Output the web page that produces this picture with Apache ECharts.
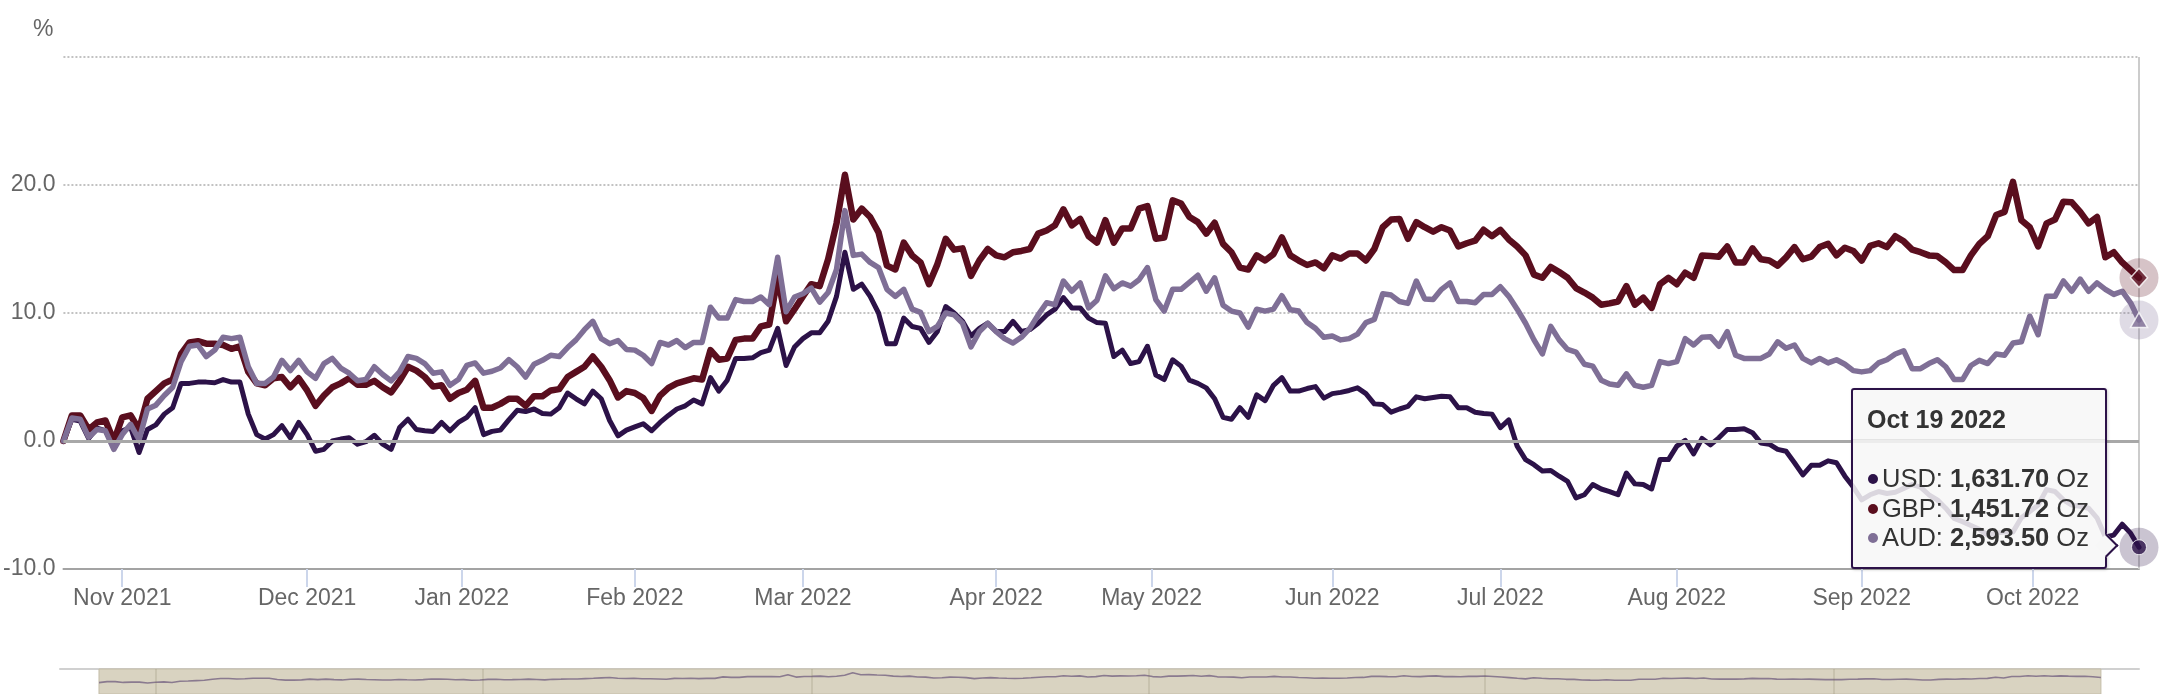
<!DOCTYPE html>
<html><head><meta charset="utf-8">
<script src="https://cdn.jsdelivr.net/npm/echarts@6/dist/echarts.min.js"></script>
<style>html,body{margin:0;padding:0;background:#fff;}#c{width:2168px;height:694px;}</style>
</head><body><div id="c"></div>
<script>
// Trading days per month (London fixing calendar)
const tradingDays = {
 '2021-10': [21,22,25,26,27,28,29],
 '2021-11': [1,2,3,4,5,8,9,10,11,12,15,16,17,18,19,22,23,24,25,26,29,30],
 '2021-12': [1,2,3,6,7,8,9,10,13,14,15,16,17,20,21,22,23,29,30],
 '2022-01': [4,5,6,7,10,11,12,13,14,17,18,19,20,21,24,25,26,27,28,31],
 '2022-02': [1,2,3,4,7,8,9,10,11,14,15,16,17,18,21,22,23,24,25,28],
 '2022-03': [1,2,3,4,7,8,9,10,11,14,15,16,17,18,21,22,23,24,25,28,29,30,31],
 '2022-04': [1,4,5,6,7,8,11,12,13,14,19,20,21,22,25,26,27,28,29],
 '2022-05': [3,4,5,6,9,10,11,12,13,16,17,18,19,20,23,24,25,26,27,30,31],
 '2022-06': [1,6,7,8,9,10,13,14,15,16,17,20,21,22,23,24,27,28,29,30],
 '2022-07': [1,4,5,6,7,8,11,12,13,14,15,18,19,20,21,22,25,26,27,28,29],
 '2022-08': [1,2,3,4,5,8,9,10,11,12,15,16,17,18,19,22,23,24,25,26,30,31],
 '2022-09': [1,2,5,6,7,8,9,12,13,14,15,16,20,21,22,23,26,27,28,29,30],
 '2022-10': [3,4,5,6,7,10,11,12,13,14,17,18,19]
};
const tickMonths = ['2021-11','2021-12','2022-01','2022-02','2022-03','2022-04','2022-05','2022-06','2022-07','2022-08','2022-09','2022-10'];
const tickLabels = ['Nov 2021','Dec 2021','Jan 2022','Feb 2022','Mar 2022','Apr 2022','May 2022','Jun 2022','Jul 2022','Aug 2022','Sep 2022','Oct 2022'];
const yTicks = [-10, 0, 10, 20, 30];

const usd = [
 0,1.7,1.55,0.2,1.0,0.8,-0.4,0.8,1.05,-0.9,
 0.9,1.26,2.1,2.6,4.5,4.5,4.6,4.6,4.55,4.8,
 4.6,4.6,2.1,0.5,0.15,0.5,1.2,0.25,1.45,0.5,
 -0.8,-0.65,0,0.15,0.25,-0.25,-0.05,0.45,-0.25,-0.65,
 1.05,1.7,0.9,0.8,0.75,1.45,0.8,1.45,1.85,2.6,
 0.5,0.75,0.85,1.65,2.4,2.3,2.5,2.15,2.1,2.6,
 3.75,3.3,2.9,3.9,3.3,1.6,0.4,0.85,1.1,1.35,
 0.8,1.45,2.0,2.5,2.75,3.2,2.9,4.95,3.9,4.75,
 6.45,6.45,6.5,6.9,7.1,8.8,5.9,7.35,8.0,8.45,
 8.45,9.35,11.3,14.75,11.85,12.25,11.3,10.0,7.6,7.6,
 9.6,8.95,8.8,7.7,8.55,10.5,10.0,9.35,8.2,8.8,
 9.2,8.55,8.55,9.35,8.55,8.7,9.2,9.85,10.3,11.2,
 10.4,10.4,9.6,9.25,9.2,6.6,7.1,6.05,6.2,7.4,
 5.15,4.8,6.35,5.85,4.75,4.5,4.15,3.3,1.85,1.7,
 2.6,1.85,3.6,3.15,4.35,4.95,3.9,3.9,4.1,4.25,
 3.35,3.7,3.8,3.95,4.15,3.7,2.9,2.85,2.25,2.5,
 2.7,3.45,3.3,3.4,3.5,3.45,2.6,2.6,2.25,2.15,
 2.1,1.05,1.65,-0.4,-1.45,-1.85,-2.35,-2.3,-2.75,-3.15,
 -4.45,-4.2,-3.4,-3.75,-3.95,-4.2,-2.5,-3.35,-3.4,-3.75,
 -1.45,-1.45,-0.4,0.05,-1.0,0.2,-0.3,0.25,0.9,0.9,
 0.95,0.65,-0.15,-0.25,-0.65,-0.8,-1.7,-2.65,-1.9,-1.9,
 -1.55,-1.7,-2.75,-3.6,-4.6,-4.2,-3.95,-4.1,-4.0,-3.7,
 -3.4,-3.6,-4.2,-4.6,-5.25,-6.05,-6.3,-6.6,-6.9,-7.35,
 -7.2,-7.1,-7.1,-6.0,-5.5,-5.0,-3.8,-3.95,-4.6,-5.0,
 -5.1,-5.25,-6.0,-7.5,-7.35,-6.5,-7.2,-8.3
];
const gbp = [
 0,2.0,2.0,0.9,1.45,1.6,0,1.85,2.0,0.9,
 3.3,3.9,4.5,4.8,6.8,7.7,7.8,7.6,7.6,7.5,
 7.2,7.4,5.4,4.5,4.35,4.9,5.0,4.2,4.9,3.95,
 2.75,3.55,4.2,4.5,4.9,4.4,4.4,4.7,4.2,3.8,
 4.7,5.8,5.5,5.0,4.25,4.35,3.3,3.75,4.0,4.7,
 2.6,2.6,2.9,3.3,3.3,2.75,3.5,3.5,3.95,4.05,
 5.0,5.4,5.8,6.6,5.8,4.75,3.4,3.9,3.75,3.35,
 2.35,3.55,4.15,4.5,4.7,4.9,4.8,7.1,6.35,6.45,
 7.9,8.0,8.0,8.95,9.1,12.8,9.35,10.3,11.3,12.25,
 12.1,14.2,17.0,20.8,17.3,18.15,17.5,16.3,13.7,13.4,
 15.5,14.5,13.95,12.25,13.8,15.8,14.95,15.05,12.9,14.1,
 15.0,14.5,14.35,14.75,14.85,15.0,16.2,16.45,16.85,18.1,
 16.85,17.35,16.0,15.5,17.25,15.5,16.6,16.6,18.15,18.35,
 15.8,15.9,18.8,18.55,17.5,17.1,16.2,17.05,15.4,14.75,
 13.55,13.4,14.5,14.1,14.6,15.9,14.5,14.1,13.75,13.95,
 13.5,14.5,14.25,14.65,14.65,14.1,15.0,16.7,17.3,17.35,
 15.8,17.1,16.7,16.35,16.7,16.45,15.2,15.45,15.65,16.5,
 16.0,16.5,15.75,15.2,14.5,13.0,12.75,13.6,13.2,12.75,
 11.95,11.6,11.2,10.65,10.75,10.9,12.1,10.65,11.2,10.4,
 12.25,12.75,12.25,13.15,12.75,14.5,14.45,14.4,15.2,13.95,
 13.95,15.05,14.2,14.1,13.7,14.35,15.15,14.2,14.4,15.15,
 15.4,14.5,15.1,14.85,14.1,15.25,15.45,15.15,16.0,15.6,
 14.95,14.75,14.5,14.45,13.95,13.35,13.35,14.5,15.4,16.0,
 17.65,17.9,20.25,17.25,16.7,15.2,17.0,17.3,18.7,18.65,
 17.9,17.0,17.5,14.35,14.75,13.95,13.35,12.75
];
const aud = [
 0,1.8,1.7,0.3,0.9,0.8,-0.65,0.5,1.3,0.1,
 2.5,2.8,3.55,4.2,6.2,7.4,7.5,6.6,7.1,8.1,
 8.0,8.1,5.8,4.5,4.5,5.0,6.3,5.5,6.3,5.4,
 4.9,6.05,6.45,5.7,5.3,4.7,4.8,5.8,5.2,4.7,
 5.4,6.6,6.45,6.05,5.3,5.4,4.35,4.8,5.9,6.1,
 5.3,5.45,5.7,6.35,5.8,5.0,6.0,6.3,6.7,6.6,
 7.3,7.9,8.7,9.35,8.0,7.6,7.85,7.15,7.1,6.7,
 6.05,7.7,7.5,7.85,7.3,7.7,7.7,10.45,9.6,9.6,
 11.05,10.9,10.9,11.25,10.65,14.35,10.1,11.25,11.5,11.95,
 10.85,11.6,13.4,18.0,14.5,14.6,13.95,13.55,11.85,11.3,
 11.85,10.3,10.05,8.55,8.95,10.0,9.85,9.2,7.35,8.55,
 9.2,8.55,8.0,7.65,8.1,8.8,9.85,10.8,10.65,12.5,
 11.7,12.35,10.4,11.0,12.9,11.9,12.35,12.1,12.6,13.55,
 11.05,10.15,11.85,11.85,12.4,12.95,11.7,12.75,10.6,10.15,
 10.0,8.9,10.3,10.15,10.3,11.35,10.25,10.15,9.25,8.8,
 8.1,8.2,7.9,8.0,8.35,9.25,9.5,11.5,11.4,10.9,
 10.75,12.5,11.1,11.05,11.85,12.35,10.9,10.9,10.8,11.45,
 11.45,12.05,11.3,10.3,9.2,7.9,6.8,8.95,7.9,7.15,
 6.95,6.0,5.85,4.75,4.45,4.35,5.25,4.35,4.2,4.35,
 6.2,6.05,6.2,8.0,7.5,8.1,8.15,7.4,8.55,6.7,
 6.45,6.45,6.45,6.8,7.75,7.25,7.5,6.45,6.1,6.45,
 6.1,6.35,6.0,5.5,5.4,5.5,6.1,6.35,6.8,7.05,
 5.65,5.65,6.05,6.35,5.8,4.8,4.8,5.9,6.3,6.05,
 6.8,6.7,7.65,7.75,9.75,8.3,11.3,11.3,12.5,11.7,
 12.65,11.7,12.35,11.85,11.45,11.7,10.8,9.45
];
const seriesNames = ['USD','GBP','AUD'];
const tooltipPrices = [1631.70, 1451.72, 2593.50];
const colors = ['#2c1248','#5a0e1e','#7f6f96'];

// ----- build dates -----
const dates = [];
Object.keys(tradingDays).forEach(k => {
  const [y, m] = k.split('-').map(Number);
  tradingDays[k].forEach(d => dates.push(Date.UTC(y, m - 1, d)));
});
const lastIdx = dates.length - 1;
const MON = ['Jan','Feb','Mar','Apr','May','Jun','Jul','Aug','Sep','Oct','Nov','Dec'];
// ordinal tick positions (interpolated in time like an ordinal axis)
const tickPos = tickMonths.map(k => {
  const [y, m] = k.split('-').map(Number);
  const t = Date.UTC(y, m - 1, 1);
  let j = dates.findIndex(d => d >= t);
  if (dates[j] === t || j === 0) return j;
  return (j - 1) + (t - dates[j - 1]) / (dates[j] - dates[j - 1]);
});
function tickLabelFor(v) {
  for (let i = 0; i < tickPos.length; i++) if (Math.abs(tickPos[i] - v) < 1e-6) return tickLabels[i];
  return '';
}
const FONT = '"Liberation Sans", Arial, Helvetica, sans-serif';
const dataSets = [usd, gbp, aud];
const widths = [5, 6.5, 5.5];

const lineSeries = dataSets.map((arr, s) => ({
  name: seriesNames[s], type: 'line', xAxisIndex: 0, yAxisIndex: 0,
  data: arr.map((v, i) => [i, v]),
  symbol: 'none', showSymbol: false, z: 2 + s,
  lineStyle: { color: colors[s], width: widths[s], join: 'round', cap: 'round' },
  itemStyle: { color: colors[s] },
  emphasis: { disabled: true }, animation: false
}));

const navTicks = tickPos.filter((p, i) => i % 2 === 0);

const option = {
  animation: false,
  textStyle: { fontFamily: FONT },
  grid: [
    { left: 60, right: 29, top: 57, height: 512 },
    { left: 60, right: 29, top: 669, height: 40 }
  ],
  xAxis: [
    { type: 'value', gridIndex: 0, min: 0, max: lastIdx,
      axisLine: { show: true, onZero: false, lineStyle: { color: '#a3a3a3', width: 2 } },
      axisTick: { show: true, customValues: tickPos, length: 18, lineStyle: { color: '#ccd6eb', width: 2 } },
      axisLabel: { show: true, customValues: tickPos, formatter: tickLabelFor, color: '#666', fontSize: 23, margin: 18, fontFamily: FONT },
      splitLine: { show: false } },
    { type: 'value', gridIndex: 1, min: -4.81, max: 251.7, position: 'top',
      axisLine: { show: true, onZero: false, lineStyle: { color: '#d0d0d0', width: 2 } },
      axisTick: { show: false }, axisLabel: { show: false }, splitLine: { show: false } }
  ],
  yAxis: [
    { type: 'value', gridIndex: 0, min: yTicks[0], max: yTicks[yTicks.length - 1], interval: 10,
      name: '%', nameLocation: 'end', nameGap: 27,
      nameTextStyle: { color: '#666', fontSize: 23, align: 'right', verticalAlign: 'middle', padding: [0, 10, 0, 0], fontFamily: FONT },
      axisLine: { show: false }, axisTick: { show: false },
      axisLabel: { color: '#666', fontSize: 23, margin: 8, fontFamily: FONT,
        formatter: v => (v === yTicks[yTicks.length - 1] ? '' : v.toFixed(1)) },
      splitLine: { show: true, lineStyle: { color: '#c2c2c2', width: 2, type: [2, 2] } } },
    { type: 'value', gridIndex: 1, min: -21, max: 25, show: false, splitLine: { show: false } }
  ],
  tooltip: {
    trigger: 'axis', triggerOn: 'none', alwaysShowContent: true, transitionDuration: 0,
    backgroundColor: 'rgba(247,247,247,0.86)', borderColor: colors[0], borderWidth: 2, borderRadius: 3, padding: 0,
    extraCssText: 'box-shadow:1px 1px 3px rgba(0,0,0,0.18);overflow:visible;',
    axisPointer: { type: 'line', snap: true, z: 1, lineStyle: { color: '#cccccc', width: 2, type: 'solid' }, label: { show: false } },
    position: () => [1851, 388],
    formatter: () => {
      const d = new Date(dates[lastIdx]);
      const title = MON[d.getUTCMonth()] + ' ' + d.getUTCDate() + ' ' + d.getUTCFullYear();
      const rows = seriesNames.map((n, s) =>
        '<div style="white-space:nowrap;"><span style="display:inline-block;width:10px;height:10px;border-radius:5px;background:' + colors[s] +
        ';margin-right:4px;vertical-align:3px;"></span>' + n + ': <b>' +
        tooltipPrices[s].toLocaleString('en-US', { minimumFractionDigits: 2, maximumFractionDigits: 2 }) + '</b> Oz</div>').join('');
      return '<div style="position:relative;width:252px;height:177px;font-family:' + FONT.replace(/"/g, "'") + ';color:#333;">' +
        '<div style="padding:15px 0 0 14px;height:34px;border-bottom:1px solid #e4e4e4;font-weight:bold;font-size:25px;line-height:29px;white-space:nowrap;">' + title + '</div>' +
        '<div style="padding:24px 0 0 15px;font-size:25.5px;line-height:29.5px;">' + rows + '</div>' +
        '<div style="position:absolute;left:244.5px;top:146.5px;width:17px;height:17px;box-sizing:border-box;background:#f7f7f7;border-top:2px solid ' + colors[0] +
        ';border-right:2px solid ' + colors[0] + ';transform:rotate(45deg);"></div>' +
        '</div>';
    }
  },
  series: [
    { type: 'line', xAxisIndex: 0, yAxisIndex: 0, data: [], z: 1, silent: true,
      markLine: { silent: true, symbol: 'none', label: { show: false }, animation: false,
        lineStyle: { color: '#a8a8a8', width: 3, type: 'solid' }, data: [{ yAxis: 0 }] } },
    ...lineSeries,
    { type: 'scatter', xAxisIndex: 0, yAxisIndex: 0, z: 6, silent: true, symbolSize: 39, emphasis: { disabled: true },
      data: dataSets.map((arr, s) => ({ value: [lastIdx, arr[lastIdx]], itemStyle: { color: colors[s], opacity: 0.25 } })) },
    { type: 'scatter', xAxisIndex: 0, yAxisIndex: 0, z: 7, silent: true, emphasis: { disabled: true },
      data: [
        { value: [lastIdx, usd[lastIdx]], symbol: 'circle', symbolSize: 15, itemStyle: { color: colors[0], borderColor: '#fff', borderWidth: 1 } },
        { value: [lastIdx, gbp[lastIdx]], symbol: 'diamond', symbolSize: [17, 19], itemStyle: { color: colors[1], borderColor: '#fff', borderWidth: 1.5 } },
        { value: [lastIdx, aud[lastIdx]], symbol: 'triangle', symbolSize: [17, 15], itemStyle: { color: colors[2], borderColor: '#fff', borderWidth: 1.5 } }
      ] },
    { type: 'line', xAxisIndex: 1, yAxisIndex: 1, data: [], z: 1, silent: true,
      markArea: { silent: true, itemStyle: { color: '#d9d3c1', borderColor: '#c4bda8', borderWidth: 1 },
        data: [[{ xAxis: 0 }, { xAxis: lastIdx }]] },
      markLine: { silent: true, symbol: 'none', label: { show: false },
        lineStyle: { color: 'rgba(120,108,80,0.22)', width: 1.5, type: 'solid' },
        data: navTicks.map(p => ({ xAxis: p })) } },
    { type: 'line', xAxisIndex: 1, yAxisIndex: 1, z: 3, silent: true, symbol: 'none', showSymbol: false,
      data: aud.map((v, i) => [i, v]), lineStyle: { color: '#8a7a8f', width: 1.6 }, emphasis: { disabled: true } }
  ]
};

const chart = echarts.init(document.getElementById('c'), null, { renderer: 'canvas' });
chart.setOption(option);
const px = chart.convertToPixel({ gridIndex: 0 }, [lastIdx, usd[lastIdx]]);
chart.dispatchAction({ type: 'showTip', x: px[0], y: px[1] });
</script>
</body></html>
